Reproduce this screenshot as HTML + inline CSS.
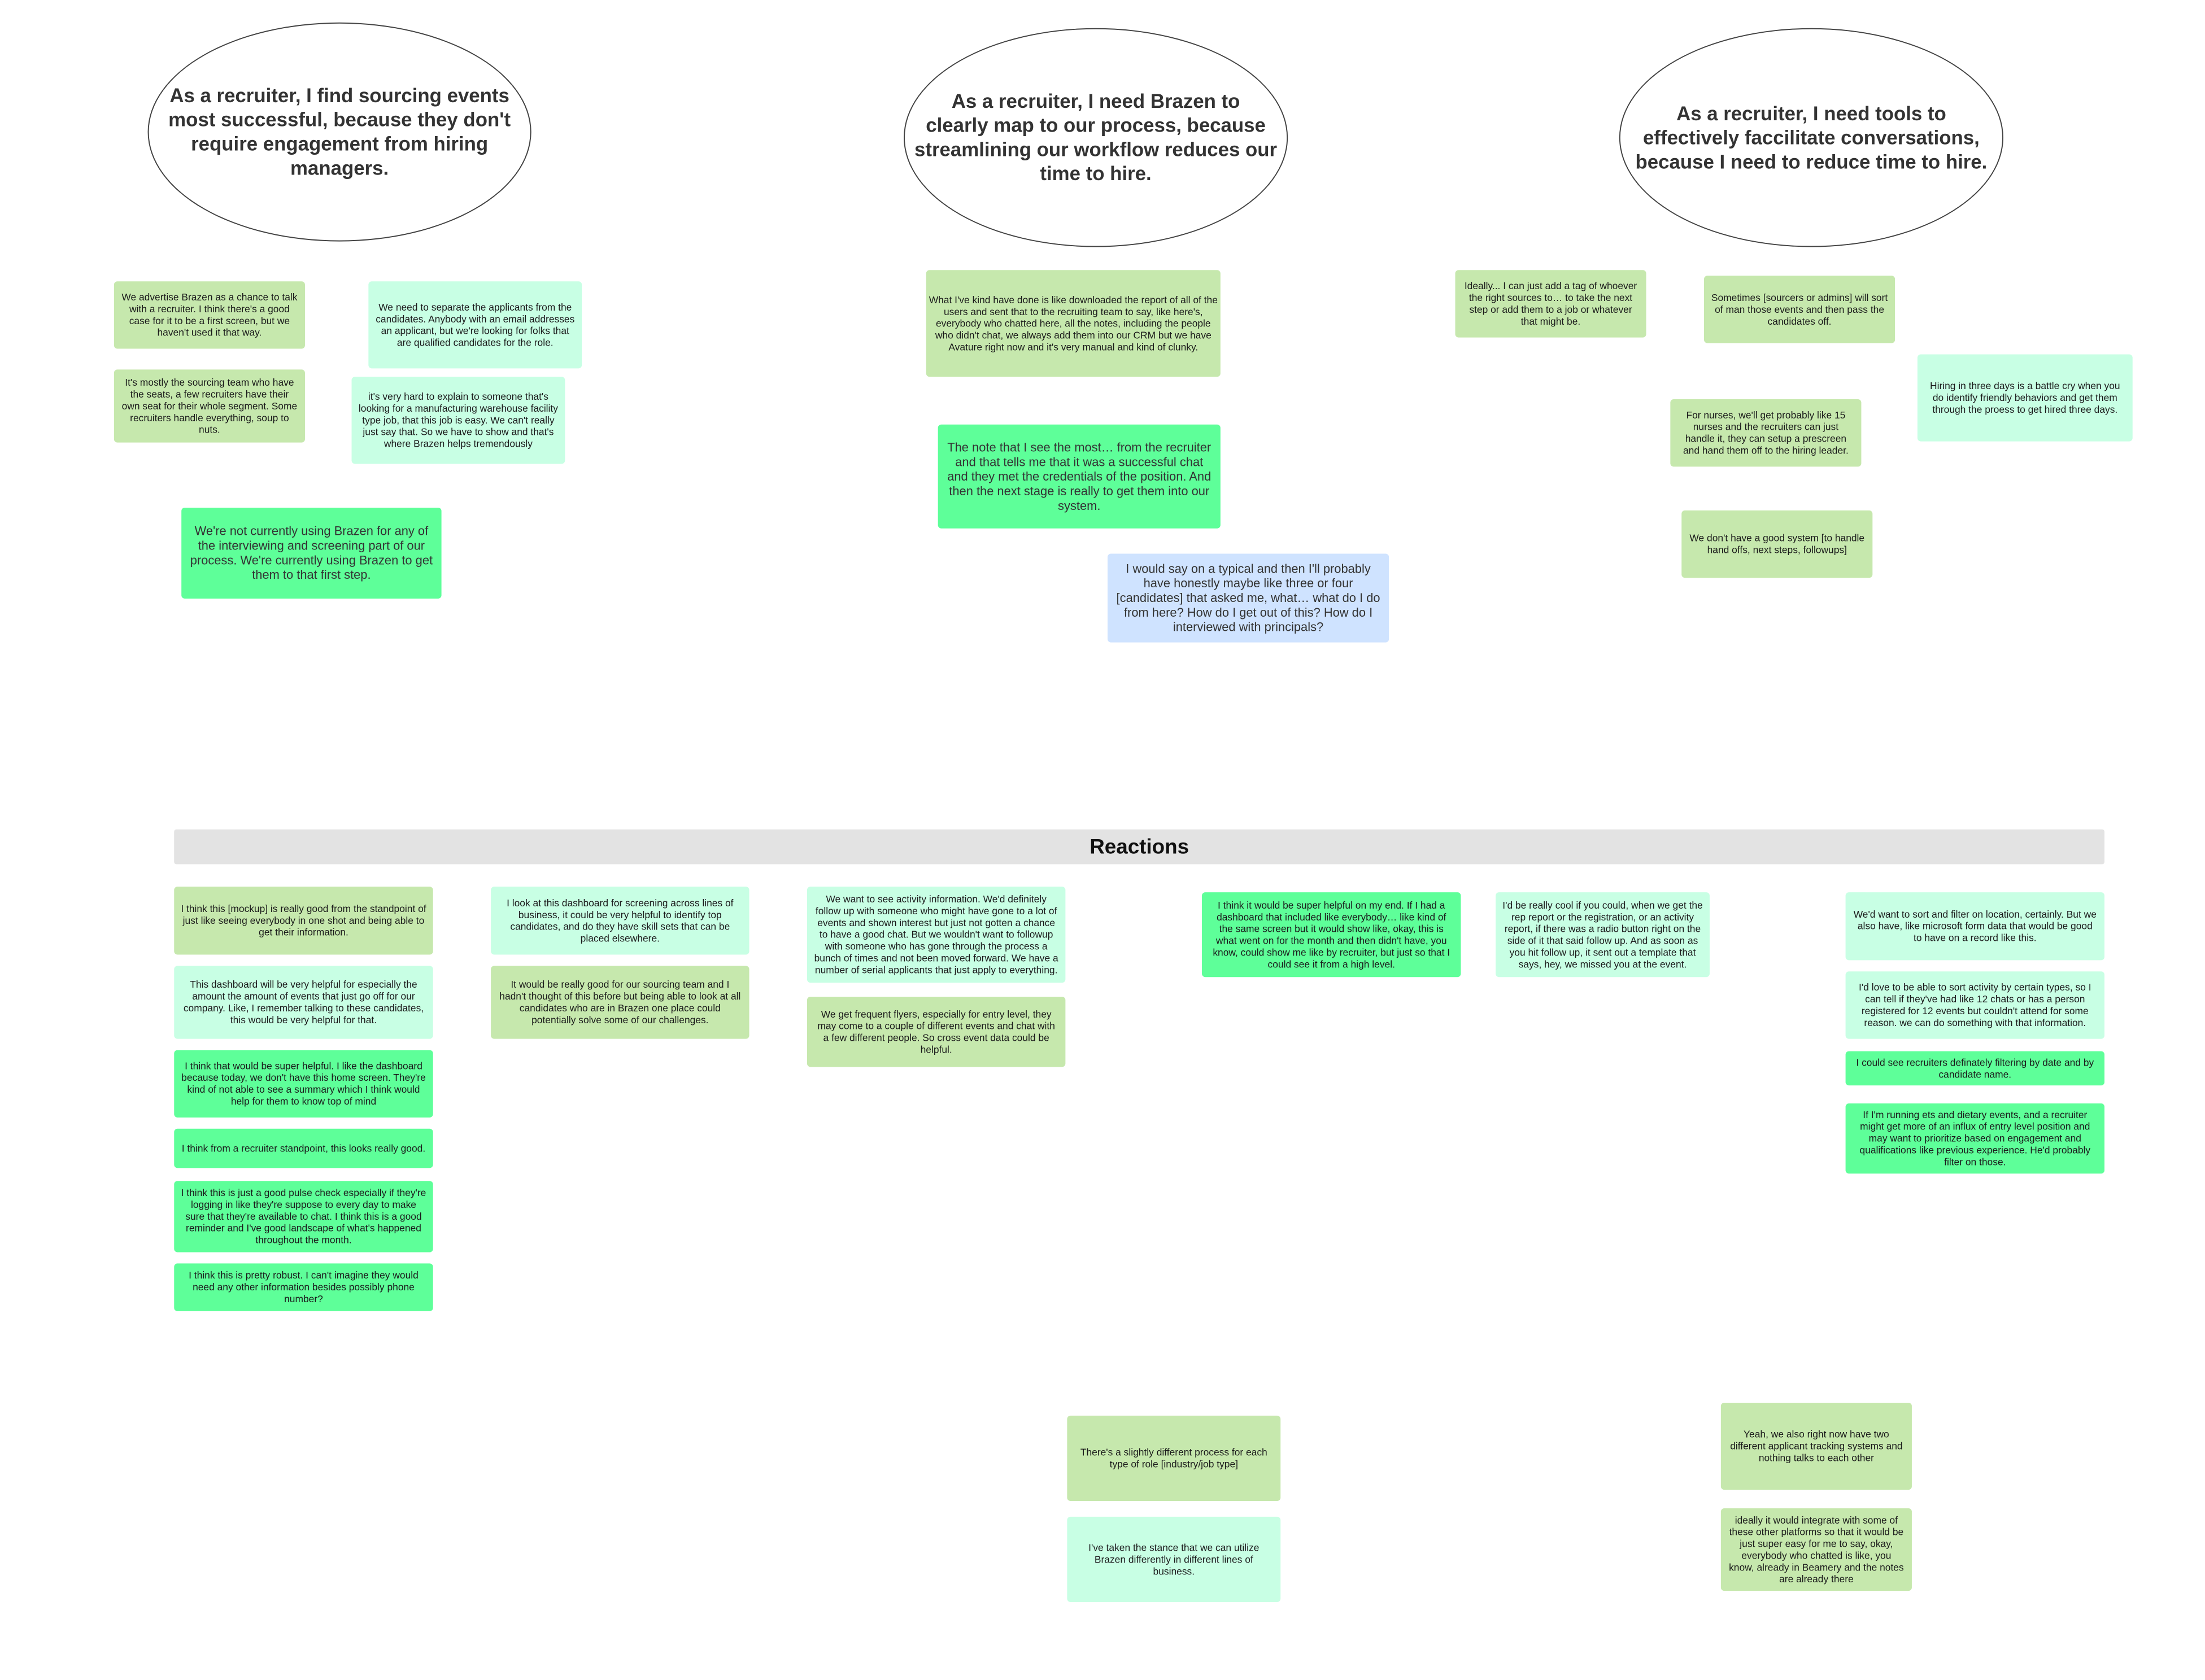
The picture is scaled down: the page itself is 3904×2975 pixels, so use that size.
<!DOCTYPE html>
<html><head><meta charset="utf-8"><style>
html,body{margin:0;padding:0;background:#fff;}
body{width:3904px;height:2975px;position:relative;overflow:hidden;font-family:"Liberation Sans",sans-serif;color:#1a1a1a;}
#w{position:absolute;left:0;top:0;width:3904px;height:2975px;transform:scale(0.9944);transform-origin:0 0;}
.b{position:absolute;display:flex;align-items:center;justify-content:center;text-align:center;box-sizing:border-box;padding:8px 12px;border-radius:6px;font-size:17.5px;line-height:21px;}
.o{background:#c6e8ad;}
.m{background:#c8ffe4;}
.g{background:#5eff99;}
.u{background:#cfe3ff;}
.L{font-size:22px;line-height:26px;color:#333;}
.e{position:absolute;border:2.5px solid #444;border-radius:50%;box-sizing:border-box;display:flex;align-items:center;justify-content:center;text-align:center;font-weight:bold;font-size:35px;line-height:43px;color:#333;padding:0 18px;}
.bar{position:absolute;left:310px;top:1477px;width:3437px;height:62px;background:#e3e3e3;border-radius:4px;display:flex;align-items:center;justify-content:center;font-weight:bold;font-size:37px;color:#111;}
</style></head><body><div id="w">

<div class="e" style="left:263px;top:40px;width:683px;height:390px;">As a recruiter, I find sourcing events most successful, because they don't require engagement from hiring managers.</div>
<div class="e" style="left:1609px;top:50px;width:684px;height:390px;white-space:nowrap;padding:0;"><span>As a recruiter, I need Brazen to<br>clearly map to our process, because<br>streamlining our workflow reduces our<br>time to hire.</span></div>
<div class="e" style="left:2883px;top:50px;width:684px;height:390px;">As a recruiter, I need tools to effectively faccilitate conversations, because I need to reduce time to hire.</div>

<div class="b o" style="left:203px;top:501px;width:340px;height:120px;">We advertise Brazen as a chance to talk with a recruiter. I think there's a good case for it to be a first screen, but we haven't used it that way.</div>
<div class="b m" style="left:656px;top:501px;width:380px;height:155px;">We need to separate the applicants from the candidates. Anybody with an email addresses an applicant, but we're looking for folks that are qualified candidates for the role.</div>
<div class="b o" style="left:203px;top:658px;width:340px;height:130px;">It's mostly the sourcing team who have the seats, a few recruiters have their own seat for their whole segment. Some recruiters handle everything, soup to nuts.</div>
<div class="b m" style="left:626px;top:671px;width:380px;height:155px;">it's very hard to explain to someone that's looking for a manufacturing warehouse facility type job, that this job is easy. We can't really just say that. So we have to show and that's where Brazen helps tremendously</div>
<div class="b g L" style="left:323px;top:904px;width:463px;height:162px;">We're not currently using Brazen for any of the interviewing and screening part of our process. We're currently using Brazen to get them to that first step.</div>

<div class="b o" style="left:1649px;top:481px;width:524px;height:190px;padding:8px 4px;">What I've kind have done is like downloaded the report of all of the users and sent that to the recruiting team to say, like here's, everybody who chatted here, all the notes, including the people who didn't chat, we always add them into our CRM but we have Avature right now and it's very manual and kind of clunky.</div>
<div class="b g L" style="left:1670px;top:756px;width:503px;height:185px;">The note that I see the most… from the recruiter and that tells me that it was a successful chat and they met the credentials of the position. And then the next stage is really to get them into our system.</div>
<div class="b u L" style="left:1972px;top:986px;width:501px;height:158px;">I would say on a typical and then I'll probably have honestly maybe like three or four [candidates] that asked me, what… what do I do from here? How do I get out of this? How do I interviewed with principals?</div>

<div class="b o" style="left:2591px;top:481px;width:340px;height:120px;">Ideally... I can just add a tag of whoever the right sources to… to take the next step or add them to a job or whatever that might be.</div>
<div class="b o" style="left:3034px;top:491px;width:340px;height:120px;">Sometimes [sourcers or admins] will sort of man those events and then pass the candidates off.</div>
<div class="b m" style="left:3414px;top:631px;width:383px;height:155px;">Hiring in three days is a battle cry when you do identify friendly behaviors and get them through the proess to get hired three days.</div>
<div class="b o" style="left:2974px;top:711px;width:340px;height:120px;">For nurses, we'll get probably like 15 nurses and the recruiters can just handle it, they can setup a prescreen and hand them off to the hiring leader.</div>
<div class="b o" style="left:2994px;top:909px;width:340px;height:120px;">We don't have a good system [to handle hand offs, next steps, followups]</div>

<div class="bar">Reactions</div>

<div class="b o" style="left:310px;top:1579px;width:461px;height:121px;">I think this [mockup] is really good from the standpoint of just like seeing everybody in one shot and being able to get their information.</div>
<div class="b m" style="left:310px;top:1720px;width:461px;height:130px;">This dashboard will be very helpful for especially the amount the amount of events that just go off for our company. Like, I remember talking to these candidates, this would be very helpful for that.</div>
<div class="b g" style="left:310px;top:1870px;width:461px;height:120px;">I think that would be super helpful. I like the dashboard because today, we don't have this home screen. They're kind of not able to see a summary which I think would help for them to know top of mind</div>
<div class="b g" style="left:310px;top:2010px;width:461px;height:70px;">I think from a recruiter standpoint, this looks really good.</div>
<div class="b g" style="left:310px;top:2103px;width:461px;height:127px;">I think this is just a good pulse check especially if they're logging in like they're suppose to every day to make sure that they're available to chat. I think this is a good reminder and I've good landscape of what's happened throughout the month.</div>
<div class="b g" style="left:310px;top:2250px;width:461px;height:85px;">I think this is pretty robust. I can't imagine they would need any other information besides possibly phone number?</div>

<div class="b m" style="left:874px;top:1579px;width:460px;height:121px;">I look at this dashboard for screening across lines of business, it could be very helpful to identify top candidates, and do they have skill sets that can be placed elsewhere.</div>
<div class="b o" style="left:874px;top:1720px;width:460px;height:130px;">It would be really good for our sourcing team and I hadn't thought of this before but being able to look at all candidates who are in Brazen one place could potentially solve some of our challenges.</div>

<div class="b m" style="left:1437px;top:1579px;width:460px;height:171px;">We want to see activity information. We'd definitely follow up with someone who might have gone to a lot of events and shown interest but just not gotten a chance to have a good chat. But we wouldn't want to followup with someone who has gone through the process a bunch of times and not been moved forward. We have a number of serial applicants that just apply to everything.</div>
<div class="b o" style="left:1437px;top:1775px;width:460px;height:125px;">We get frequent flyers, especially for entry level, they may come to a couple of different events and chat with a few different people. So cross event data could be helpful.</div>

<div class="b g" style="left:2140px;top:1589px;width:461px;height:151px;">I think it would be super helpful on my end. If I had a dashboard that included like everybody… like kind of the same screen but it would show like, okay, this is what went on for the month and then didn't have, you know, could show me like by recruiter, but just so that I could see it from a high level.</div>
<div class="b m" style="left:2663px;top:1589px;width:381px;height:151px;">I'd be really cool if you could, when we get the rep report or the registration, or an activity report, if there was a radio button right on the side of it that said follow up. And as soon as you hit follow up, it sent out a template that says, hey, we missed you at the event.</div>

<div class="b m" style="left:3286px;top:1589px;width:461px;height:121px;">We'd want to sort and filter on location, certainly. But we also have, like microsoft form data that would be good to have on a record like this.</div>
<div class="b m" style="left:3286px;top:1730px;width:461px;height:120px;">I'd love to be able to sort activity by certain types, so I can tell if they've had like 12 chats or has a person registered for 12 events but couldn't attend for some reason. we can do something with that information.</div>
<div class="b g" style="left:3286px;top:1872px;width:461px;height:61px;">I could see recruiters definately filtering by date and by candidate name.</div>
<div class="b g" style="left:3286px;top:1965px;width:461px;height:125px;">If I'm running ets and dietary events, and a recruiter might get more of an influx of entry level position and may want to prioritize based on engagement and qualifications like previous experience. He'd probably filter on those.</div>

<div class="b o" style="left:1900px;top:2521px;width:380px;height:152px;">There's a slightly different process for each type of role [industry/job type]</div>
<div class="b m" style="left:1900px;top:2701px;width:380px;height:152px;">I've taken the stance that we can utilize Brazen differently in different lines of business.</div>
<div class="b o" style="left:3064px;top:2498px;width:340px;height:155px;">Yeah, we also right now have two different applicant tracking systems and nothing talks to each other</div>
<div class="b o" style="left:3064px;top:2686px;width:340px;height:147px;">ideally it would integrate with some of these other platforms so that it would be just super easy for me to say, okay, everybody who chatted is like, you know, already in Beamery and the notes are already there</div>

</div></body></html>
